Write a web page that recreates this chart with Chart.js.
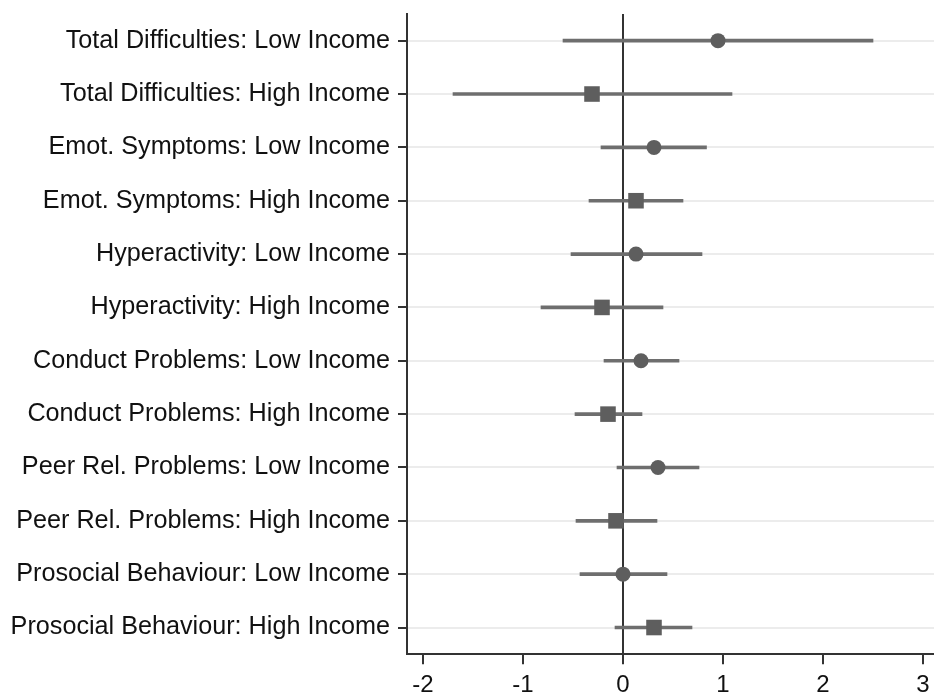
<!DOCTYPE html>
<html>
<head>
<meta charset="utf-8">
<script src="https://cdn.jsdelivr.net/npm/chart.js@4"></script>
<style>
html,body{margin:0;padding:0;background:#fff;overflow:hidden;width:934px;height:693px;}
#wrap{position:absolute;left:0;top:0;width:934px;height:707px;}
</style>
</head>
<body>
<div id="wrap"><canvas id="c"></canvas></div>
<script>
const categories = [
  "Total Difficulties: Low Income",
  "Total Difficulties: High Income",
  "Emot. Symptoms: Low Income",
  "Emot. Symptoms: High Income",
  "Hyperactivity: Low Income",
  "Hyperactivity: High Income",
  "Conduct Problems: Low Income",
  "Conduct Problems: High Income",
  "Peer Rel. Problems: Low Income",
  "Peer Rel. Problems: High Income",
  "Prosocial Behaviour: Low Income",
  "Prosocial Behaviour: High Income"
];
const estimates = [0.95, -0.31, 0.31, 0.13, 0.13, -0.21, 0.18, -0.15, 0.35, -0.07, 0.00, 0.31];
const ciLower   = [-0.60, -1.70, -0.22, -0.34, -0.52, -0.82, -0.19, -0.48, -0.06, -0.47, -0.43, -0.08];
const ciUpper   = [2.50, 1.09, 0.835, 0.60, 0.79, 0.40, 0.56, 0.19, 0.76, 0.34, 0.44, 0.69];
const incomeGroup = ["Low","High","Low","High","Low","High","Low","High","Low","High","Low","High"];
const xTicks = [-2, -1, 0, 1, 2, 3];

const markerStyle = incomeGroup.map(g => g === "Low" ? "circle" : "rect");
const markerRadius = incomeGroup.map(g => g === "Low" ? 7.5 : 11);

new Chart(document.getElementById('c'), {
  type: 'bar',
  data: {
    labels: categories,
    datasets: [
      {
        type: 'bar',
        data: categories.map((c, i) => [ciLower[i], ciUpper[i]]),
        backgroundColor: '#6e6e6e',
        borderWidth: 0,
        barThickness: 3,
        order: 2
      },
      {
        type: 'line',
        data: categories.map((c, i) => ({x: estimates[i], y: c})),
        showLine: false,
        pointStyle: markerStyle,
        pointRadius: markerRadius,
        pointBackgroundColor: '#5e5e5e',
        pointBorderWidth: 0,
        clip: false,
        order: 1
      }
    ]
  },
  options: {
    indexAxis: 'y',
    responsive: true,
    maintainAspectRatio: false,
    animation: false,
    layout: { autoPadding: false, padding: { top: 14, right: 0, left: 0, bottom: 0 } },
    plugins: { legend: { display: false }, tooltip: { enabled: false } },
    scales: {
      x: {
        type: 'linear',
        min: -2.16,
        max: 3.11,
        afterBuildTicks: (s) => { s.ticks = xTicks.map(v => ({value: v})); },
        afterFit: (s) => { s.paddingLeft = 0; s.paddingRight = 0; },
        ticks: {
          stepSize: 1,
          includeBounds: false,
          color: '#111',
          padding: 7,
          maxRotation: 0,
          font: { family: 'Liberation Sans, Arial, sans-serif', size: 24 }
        },
        grid: {
          drawOnChartArea: true,
          color: (ctx) => (ctx.tick && ctx.tick.value === 0) ? '#333' : 'rgba(0,0,0,0)',
          lineWidth: 2,
          tickColor: '#333',
          tickLength: 10,
          tickWidth: 2
        },
        border: { display: true, color: '#333', width: 2 }
      },
      y: {
        type: 'category',
        offset: true,
        afterFit: (s) => { s.width = 407; s.paddingTop = 0; s.paddingBottom = 0; },
        ticks: {
          color: '#111',
          padding: 8,
          font: { family: 'Liberation Sans, Arial, sans-serif', size: 25.2 }
        },
        grid: {
          offset: false,
          color: '#ececec',
          lineWidth: 2,
          tickColor: '#333',
          tickLength: 9,
          tickWidth: 2
        },
        border: { display: true, color: '#333', width: 2 }
      }
    }
  }
});
</script>
</body>
</html>
